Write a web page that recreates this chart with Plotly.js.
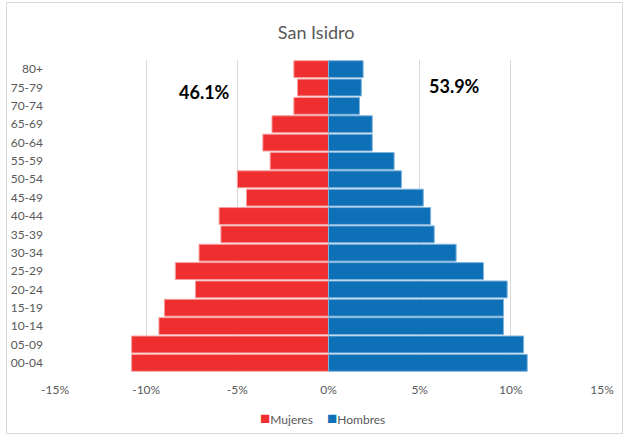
<!DOCTYPE html>
<html>
<head>
<meta charset="utf-8">
<script src="https://cdn.plot.ly/plotly-3.0.1.min.js"></script>
<style>
  html, body { margin: 0; padding: 0; background: #fff; }
  #wrap { position: relative; width: 626px; height: 436px; }
  #chart { position: absolute; left: 0; top: 0; width: 626px; height: 436px; }
  #frame { position: absolute; left: 6px; top: 2px; width: 615px; height: 430px; border: 1px solid #d9d9d9; pointer-events: none; }
</style>
</head>
<body>
<div id="wrap">
  <div id="chart"></div>
  <div id="frame"></div>
</div>
<script>
const ageGroups = ["00-04","05-09","10-14","15-19","20-24","25-29","30-34","35-39","40-44","45-49","50-54","55-59","60-64","65-69","70-74","75-79","80+"];
const mujeres = [10.8, 10.8, 9.3, 9.0, 7.3, 8.4, 7.1, 5.9, 6.0, 4.5, 5.0, 3.2, 3.6, 3.1, 1.9, 1.7, 1.9];
const hombres = [10.9, 10.7, 9.6, 9.6, 9.8, 8.5, 7.0, 5.8, 5.6, 5.2, 4.0, 3.6, 2.4, 2.4, 1.7, 1.8, 1.9];
const xTickVals = [-15, -10, -5, 0, 5, 10, 15];
const xTickText = ["-15%", "-10%", "-5%", "0%", "5%", "10%", "15%"];
const totalMujeres = "46.1%";
const totalHombres = "53.9%";
const chartTitle = "San Isidro";
const seriesNames = ["Mujeres", "Hombres"];
const seriesColors = ["#EF2F2F", "#0E71B8"];

const font = "Lato, 'Open Sans', sans-serif";

const traces = [
  {
    type: "bar", orientation: "h", name: seriesNames[0],
    y: ageGroups, x: mujeres.map(v => -v),
    marker: { color: seriesColors[0], line: { color: "#F6A0A0", width: 1 } },
    hoverinfo: "skip", showlegend: false
  },
  {
    type: "bar", orientation: "h", name: seriesNames[1],
    y: ageGroups, x: hombres,
    marker: { color: seriesColors[1], line: { color: "#7FB3DC", width: 1 } },
    hoverinfo: "skip", showlegend: false
  }
];

const sq = (c) => "<span style='color:" + c + ";font-size:17px'>■</span>";
const legendItem = (i, xPos) => ({
  text: sq(seriesColors[i]) + seriesNames[i],
  xref: "paper", yref: "paper", x: xPos, y: -0.147,
  xanchor: "left", yanchor: "middle", showarrow: false,
  font: { family: font, size: 12, color: "#595959" }
});

const layout = {
  width: 626, height: 436,
  margin: { l: 55, r: 24, t: 60, b: 64, autoexpand: false },
  paper_bgcolor: "#ffffff", plot_bgcolor: "#ffffff",
  font: { family: font, color: "#595959", size: 12 },
  title: { text: chartTitle, font: { family: font, size: 18, color: "#595959" }, x: 0.505, xanchor: "center", y: 0.925, yanchor: "middle" },
  barmode: "relative",
  bargap: 0.08,
  showlegend: false,
  xaxis: {
    range: [-15, 15], tickvals: xTickVals, ticktext: xTickText,
    showgrid: true, gridcolor: "#d9d9d9", gridwidth: 1,
    zeroline: true, zerolinecolor: "#d9d9d9", zerolinewidth: 1,
    showline: false, ticks: "", ticklen: 0,
    ticklabelstandoff: 9,
    tickfont: { family: font, size: 12, color: "#595959" },
    fixedrange: true
  },
  yaxis: {
    type: "category", categoryorder: "array", categoryarray: ageGroups,
    range: [-0.5, 16.5], showgrid: false, zeroline: false, showline: false,
    ticks: "", tickfont: { family: font, size: 12, color: "#595959" },
    ticklabelstandoff: 11,
    fixedrange: true
  },
  annotations: [
    { text: "<b>" + totalMujeres + "</b>", xref: "x", yref: "y", x: -6.8, y: 14.73, showarrow: false, font: { family: font, size: 18, color: "#000000" } },
    { text: "<b>" + totalHombres + "</b>", xref: "x", yref: "y", x: 6.9, y: 15.1, showarrow: false, font: { family: font, size: 18, color: "#000000" } },
    legendItem(0, 0.372),
    legendItem(1, 0.493)
  ]
};

Plotly.newPlot("chart", traces, layout, { displayModeBar: false, staticPlot: true });
</script>
</body>
</html>
